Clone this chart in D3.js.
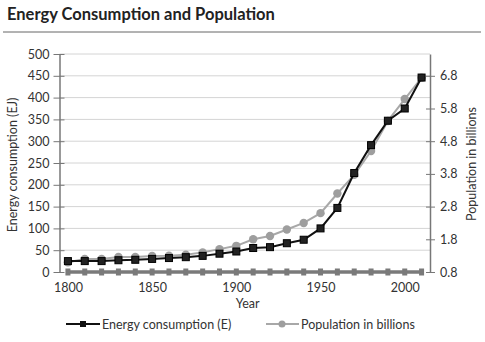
<!DOCTYPE html>
<html>
<head>
<meta charset="utf-8">
<script src="https://cdn.jsdelivr.net/npm/d3@7"></script>
<style>
  body { margin: 0; background: #fff; }
  text { font-family: Lato, "Open Sans", sans-serif; fill: #333; }
</style>
</head>
<body>
<div id="chart"></div>
<script>
// data, one value per decade
var years = d3.range(1800, 2011, 10);
var energy = [25, 25, 25, 27, 28, 30, 32, 34, 37, 42, 47, 55, 57, 66, 74, 100, 147, 227, 291, 347, 375, 446];
var population = [1.1, 1.2, 1.2, 1.26, 1.26, 1.29, 1.3, 1.33, 1.4, 1.5, 1.6, 1.8, 1.9, 2.1, 2.3, 2.6, 3.2, 3.77, 4.5, 5.42, 6.09, 6.74];
var baseSeries = years.map(function () { return 0; });
var xTicks = [1800, 1850, 1900, 1950, 2000];
var leftTicks = d3.range(0, 501, 50);
var rightTicks = [0.8, 1.8, 2.8, 3.8, 4.8, 5.8, 6.8];

var W = 485, H = 342;
var svg = d3.select("#chart").append("svg").attr("width", W).attr("height", H);

// title + rule
svg.append("text").attr("x", 7).attr("y", 20)
  .style("font-size", "16.5px").style("font-weight", "bold").style("fill", "#222")
  .text("Energy Consumption and Population");
svg.append("line").attr("x1", 3).attr("x2", 481).attr("y1", 32).attr("y2", 32)
  .attr("stroke", "#666").attr("stroke-width", 1);

var x = d3.scaleLinear().domain([1795, 2015]).range([59.5, 430]);
var y = d3.scaleLinear().domain([0, 500]).range([272, 54]);
var y2 = d3.scaleLinear().domain([0.8, 0.8 + 218 / 32.7]).range([272, 54]);

// gridlines
svg.append("g").selectAll("line").data(leftTicks.slice(1)).enter().append("line")
  .attr("x1", x.range()[0]).attr("x2", x.range()[1])
  .attr("y1", function (d) { return y(d); }).attr("y2", function (d) { return y(d); })
  .attr("stroke", "#d4d4d4").attr("stroke-width", 1);

// left axis
var gl = svg.append("g").attr("transform", "translate(" + x.range()[0] + ",0)")
  .call(d3.axisLeft(y).tickValues(leftTicks).tickSize(6).tickSizeOuter(0).tickPadding(4));
gl.select(".domain").attr("stroke", "#777").attr("stroke-width", 1.5);
gl.selectAll(".tick line").attr("stroke", "#777").attr("x2", 5).attr("x1", -6);
gl.selectAll(".tick text").style("font-size", "12.5px").style("fill", "#333")
  .style("font-family", "Lato, sans-serif");

// right axis
var gr = svg.append("g").attr("transform", "translate(" + x.range()[1] + ",0)")
  .call(d3.axisRight(y2).tickValues(rightTicks).tickFormat(d3.format(".1f")).tickSize(5).tickSizeOuter(0).tickPadding(5));
gr.select(".domain").attr("stroke", "#777").attr("stroke-width", 1.5);
gr.selectAll(".tick line").attr("stroke", "#777").attr("x1", -4).attr("x2", 5);
gr.selectAll(".tick text").style("font-size", "12.5px").style("fill", "#333")
  .style("font-family", "Lato, sans-serif");

// x axis labels
var gx = svg.append("g").attr("transform", "translate(0,272)")
  .call(d3.axisBottom(x).tickValues(xTicks).tickFormat(d3.format("d")).tickSize(0).tickPadding(11));
gx.select(".domain").remove();
gx.selectAll(".tick text").style("font-size", "12.5px").style("fill", "#333")
  .style("font-family", "Lato, sans-serif");

// axis titles
svg.append("text").attr("x", (x.range()[0] + x.range()[1]) / 2 + 3).attr("y", 308)
  .attr("text-anchor", "middle").style("font-size", "12.5px").text("Year");
svg.append("text").attr("transform", "translate(17,165) rotate(-90)")
  .attr("text-anchor", "middle").style("font-size", "12.5px").text("Energy consumption (EJ)");
svg.append("text").attr("transform", "translate(476,164) rotate(-90)")
  .attr("text-anchor", "middle").style("font-size", "12.5px").text("Population in billions");

// base series along zero
svg.append("path").datum(baseSeries)
  .attr("fill", "none").attr("stroke", "#7a7a7a").attr("stroke-width", 3.5)
  .attr("d", d3.line().x(function (d, i) { return x(years[i]); }).y(function (d) { return y(d); }));
svg.append("g").selectAll("rect").data(baseSeries).enter().append("rect")
  .attr("x", function (d, i) { return x(years[i]) - 2.5; })
  .attr("y", function (d) { return y(d) - 3.5; })
  .attr("width", 5).attr("height", 7).attr("fill", "#7a7a7a");

// population line (gray circles)
svg.append("path").datum(population)
  .attr("fill", "none").attr("stroke", "#a8a8a8").attr("stroke-width", 2)
  .attr("d", d3.line().x(function (d, i) { return x(years[i]); }).y(function (d) { return y2(d); }));
svg.append("g").selectAll("circle").data(population).enter().append("circle")
  .attr("cx", function (d, i) { return x(years[i]); })
  .attr("cy", function (d) { return y2(d); })
  .attr("r", 4.2).attr("fill", "#9e9e9e");

// energy line (black squares)
svg.append("path").datum(energy)
  .attr("fill", "none").attr("stroke", "#111").attr("stroke-width", 2)
  .attr("d", d3.line().x(function (d, i) { return x(years[i]); }).y(function (d) { return y(d); }));
svg.append("g").selectAll("rect").data(energy).enter().append("rect")
  .attr("x", function (d, i) { return x(years[i]) - 3.5; })
  .attr("y", function (d) { return y(d) - 3.5; })
  .attr("width", 7).attr("height", 7)
  .attr("fill", "#222").attr("stroke", "#000").attr("stroke-width", 1);

// legend
var lg = svg.append("g").attr("transform", "translate(0,324)");
lg.append("line").attr("x1", 66).attr("x2", 100).attr("y1", 0).attr("y2", 0)
  .attr("stroke", "#111").attr("stroke-width", 2);
lg.append("rect").attr("x", 80).attr("y", -3).attr("width", 6).attr("height", 6).attr("fill", "#111");
lg.append("text").attr("x", 102).attr("y", 4.5).style("font-size", "12.5px").text("Energy consumption (E)");
lg.append("line").attr("x1", 266).attr("x2", 299).attr("y1", 0).attr("y2", 0)
  .attr("stroke", "#a8a8a8").attr("stroke-width", 2);
lg.append("circle").attr("cx", 282).attr("cy", 0).attr("r", 3.5).attr("fill", "#9e9e9e");
lg.append("text").attr("x", 301).attr("y", 4.5).style("font-size", "12.5px").text("Population in billions");
</script>
</body>
</html>
